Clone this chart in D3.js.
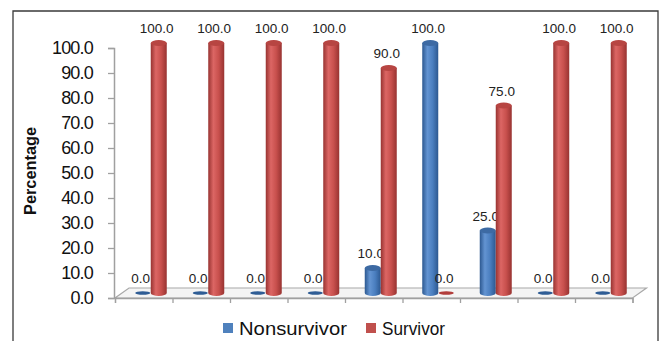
<!DOCTYPE html>
<html>
<head>
<meta charset="utf-8">
<script src="https://cdn.jsdelivr.net/npm/d3@7"></script>
<style>
  html, body { margin: 0; padding: 0; background: #fff; }
  svg { display: block; font-family: "Liberation Sans", Arial, sans-serif; }
</style>
</head>
<body>
<svg id="chart" width="661" height="341"></svg>
<script>
// Groups along the x axis (unlabelled in the chart)
const groups = ["G1", "G2", "G3", "G4", "G5", "G6", "G7", "G8", "G9"];
const seriesNames = ["Nonsurvivor", "Survivor"];
const nonsurvivor = [0.0, 0.0, 0.0, 0.0, 10.0, 100.0, 25.0, 0.0, 0.0];
const survivor = [100.0, 100.0, 100.0, 100.0, 90.0, 0.0, 75.0, 100.0, 100.0];
const yTicks = [0, 10, 20, 30, 40, 50, 60, 70, 80, 90, 100];
const yTitle = "Percentage";

const series = [
  { name: seriesNames[0], values: nonsurvivor, key: "blue" },
  { name: seriesNames[1], values: survivor, key: "red" }
];

const palette = {
  blue: { dark: "#2c5890", light: "#6394d2", mid: "#4a7ebf", top: "#3d6aa3", flat: "#2f5d95", legend: "#4f81bd" },
  red:  { dark: "#983331", light: "#dc6664", mid: "#c8504d", top: "#b74542", flat: "#b23e3c", legend: "#c0504d" }
};

const svg = d3.select("#chart");
const defs = svg.append("defs");
Object.entries(palette).forEach(([k, c]) => {
  const g = defs.append("linearGradient").attr("id", "cyl-" + k)
    .attr("x1", "0%").attr("x2", "100%").attr("y1", "0%").attr("y2", "0%");
  g.append("stop").attr("offset", "0%").attr("stop-color", c.dark);
  g.append("stop").attr("offset", "32%").attr("stop-color", c.light);
  g.append("stop").attr("offset", "65%").attr("stop-color", c.mid);
  g.append("stop").attr("offset", "100%").attr("stop-color", c.dark);
});

// Outer frame
svg.append("path")
  .attr("d", "M13,345 V11 H658 V345")
  .attr("fill", "none").attr("stroke", "#3a3a3a").attr("stroke-width", 1.3);

// Plot geometry
const left = 115, right = 632.5, yBottom = 298, yTop = 48;
const depthX = 14, depthY = 10;      // 3D floor depth
const barW = 16;

const y = d3.scaleLinear().domain([0, 100]).range([yBottom, yTop]);
const x = d3.scaleBand().domain(groups).range([left, right]).padding(0);
const xEdges = d3.scaleLinear().domain([0, groups.length]).range([left, right]);
const xs = d3.scaleBand().domain(seriesNames).range([-barW, barW]).padding(0);

// Floor plane
svg.append("path")
  .attr("d", `M${left},${yBottom} L${right},${yBottom} L${right + depthX},${yBottom - depthY} L${left + depthX},${yBottom - depthY} Z`)
  .attr("fill", "#f4f4f4").attr("stroke", "#a8a8a8").attr("stroke-width", 1.2);

// Y axis
const yAxis = svg.append("g")
  .attr("transform", `translate(${left - 1},0)`)
  .call(d3.axisLeft(y).tickValues(yTicks).tickFormat(d => d.toFixed(1)).tickSize(6).tickPadding(15));
yAxis.select(".domain").attr("stroke", "#a0a0a0").attr("stroke-width", 1.5);
yAxis.selectAll(".tick line").attr("stroke", "#a0a0a0").attr("stroke-width", 1.3);
yAxis.selectAll(".tick text")
  .attr("font-size", 18).attr("letter-spacing", "-0.8px")
  .attr("fill", "#111").attr("font-family", "Liberation Sans, Arial, sans-serif");

// X axis category dividers
const xAxis = svg.append("g")
  .attr("transform", `translate(0,${yBottom})`)
  .call(d3.axisBottom(xEdges).tickValues(d3.range(groups.length + 1)).tickFormat("").tickSize(5));
xAxis.select(".domain").attr("stroke", "#a0a0a0").attr("stroke-width", 1.3);
xAxis.selectAll(".tick line").attr("stroke", "#a0a0a0").attr("stroke-width", 1.3);

// Y axis title
svg.append("text")
  .attr("transform", `translate(36,${(yTop + yBottom) / 2 - 2}) rotate(-90)`)
  .attr("text-anchor", "middle")
  .attr("font-size", 16).attr("font-weight", "bold")
  .attr("textLength", 88).attr("lengthAdjust", "spacingAndGlyphs")
  .attr("fill", "#111")
  .text(yTitle);

// Cylinder bars, placed at mid depth of the floor
const bars = [];
series.forEach(s => {
  s.values.forEach((v, i) => {
    bars.push({ group: groups[i], series: s.name, key: s.key, value: v });
  });
});

const barsG = svg.append("g");
const rx = barW / 2, ry = 3;
bars.forEach(b => {
  const cx = x(b.group) + x.bandwidth() / 2 + depthX / 2 + xs(b.series) + barW / 2;
  const base = y(0) - depthY / 2;
  const top = y(b.value) - depthY / 2;
  const c = palette[b.key];
  const g = barsG.append("g");
  if (b.value > 0) {
    g.append("path")
      .attr("d", `M${cx - rx},${top} L${cx - rx},${base} A${rx},${ry} 0 0 0 ${cx + rx},${base} L${cx + rx},${top} Z`)
      .attr("fill", `url(#cyl-${b.key})`);
    g.append("ellipse")
      .attr("cx", cx).attr("cy", top).attr("rx", rx).attr("ry", ry)
      .attr("fill", c.top);
  } else {
    g.append("ellipse")
      .attr("cx", cx).attr("cy", base).attr("rx", rx - 0.5).attr("ry", 1.8)
      .attr("fill", c.flat);
  }
  // Value label
  g.append("text")
    .attr("x", cx - 2).attr("y", top - 10)
    .attr("text-anchor", "middle")
    .attr("font-size", 13.5).attr("fill", "#222")
    .text(b.value.toFixed(1));
});

// Legend
const legend = svg.append("g");
const legendItems = [
  { name: seriesNames[0], key: "blue", x: 223, tx: 239, len: 108 },
  { name: seriesNames[1], key: "red", x: 366, tx: 382, len: 63 }
];
legendItems.forEach(it => {
  legend.append("rect")
    .attr("x", it.x).attr("y", 323).attr("width", 10).attr("height", 10)
    .attr("fill", palette[it.key].legend);
  legend.append("text")
    .attr("x", it.tx).attr("y", 335)
    .attr("font-size", 19).attr("fill", "#111")
    .attr("textLength", it.len).attr("lengthAdjust", "spacingAndGlyphs")
    .text(it.name);
});
</script>
</body>
</html>
